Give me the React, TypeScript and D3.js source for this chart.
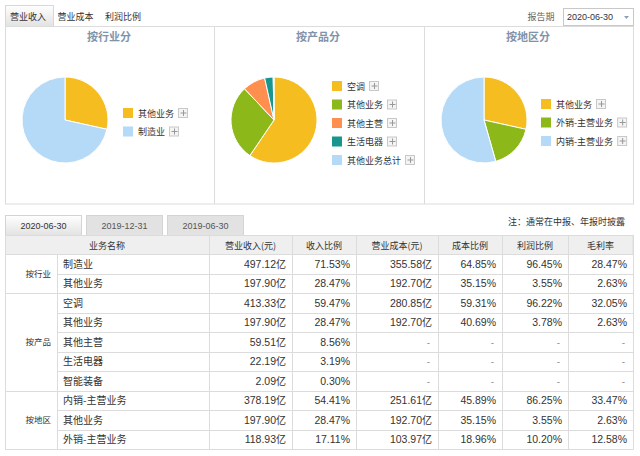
import React from "react";
import * as d3 from "d3";

const topTabs = ["营业收入", "营业成本", "利润比例"];
const periodTabs = ["2020-06-30", "2019-12-31", "2019-06-30"];
const reportDate = "2020-06-30";

const industryNames = ["其他业务", "制造业"];
const industryValues = [28.47, 71.53];
const industryColors = ["#F5BD1F", "#B5DAF7"];

const productNames = ["空调", "其他业务", "其他主营", "生活电器", "其他业务总计"];
const productValues = [59.47, 28.47, 8.56, 3.19, 0.3];
const productColors = ["#F5BD1F", "#8DB81A", "#FF8F4F", "#16968F", "#B5DAF7"];

const regionNames = ["其他业务", "外销-主营业务", "内销-主营业务"];
const regionValues = [28.47, 17.11, 54.41];
const regionColors = ["#F5BD1F", "#8DB81A", "#B5DAF7"];

const headers = ["业务名称", "营业收入(元)", "收入比例", "营业成本(元)", "成本比例", "利润比例", "毛利率"];
const groupNames = ["按行业", "按产品", "按地区"];
const groupSizes = [2, 5, 3];
const rowNames = ["制造业", "其他业务", "空调", "其他业务", "其他主营", "生活电器", "智能装备", "内销-主营业务", "其他业务", "外销-主营业务"];
const revenue = ["497.12亿", "197.90亿", "413.33亿", "197.90亿", "59.51亿", "22.19亿", "2.09亿", "378.19亿", "197.90亿", "118.93亿"];
const revenueRatio = ["71.53%", "28.47%", "59.47%", "28.47%", "8.56%", "3.19%", "0.30%", "54.41%", "28.47%", "17.11%"];
const cost = ["355.58亿", "192.70亿", "280.85亿", "192.70亿", "-", "-", "-", "251.61亿", "192.70亿", "103.97亿"];
const costRatio = ["64.85%", "35.15%", "59.31%", "40.69%", "-", "-", "-", "45.89%", "35.15%", "18.96%"];
const profitRatio = ["96.45%", "3.55%", "96.22%", "3.78%", "-", "-", "-", "86.25%", "3.55%", "10.20%"];
const grossMargin = ["28.47%", "2.63%", "32.05%", "2.63%", "-", "-", "-", "33.47%", "2.63%", "12.58%"];

const CJK = "'Noto Sans CJK SC', sans-serif";
const NUM = "'Liberation Sans', 'Noto Sans CJK SC', sans-serif";
const TXT = "#333";
const LINE = "#dcdcdc";

function measureCJK(s: string, size: number) {
  let w = 0;
  for (const ch of s) w += /[\u4e00-\u9fff]/.test(ch) ? size : size * 0.35;
  return w;
}

function PiePanel({ x, title, names, values, colors, legendX, legendY }: any) {
  const pie = d3.pie<number>().sort(null).value((d) => d)(values);
  const arc = d3.arc<d3.PieArcDatum<number>>().innerRadius(0).outerRadius(43);
  const cx = x + 60;
  const cy = 120;
  return (
    <g>
      <text x={x + 104} y={41} textAnchor="middle" fontSize={11} fontWeight="bold" fill="#8193aa" fontFamily={CJK}>{title}</text>
      <g transform={`translate(${cx},${cy})`}>
        {pie.map((p, i) => (
          <path key={i} d={arc(p) || ""} fill={colors[i]} stroke="#fff" strokeWidth={1} />
        ))}
      </g>
      {names.map((n: string, i: number) => {
        const y = legendY + i * 18.5;
        const tw = measureCJK(n, 9);
        const bx = legendX + 15 + tw + 4;
        return (
          <g key={i}>
            <rect x={legendX} y={y - 5} width={10} height={10} fill={colors[i]} />
            <text x={legendX + 15} y={y + 3.5} fontSize={9} fill={TXT} fontFamily={CJK}>{n}</text>
            <rect x={bx + 0.5} y={y - 4.5} width={9} height={9} fill="#f4f4f4" stroke="#c8c8c8" />
            <path d={`M${bx + 2.5},${y} H${bx + 8.5} M${bx + 5.5},${y - 3} V${y + 3}`} stroke="#999" strokeWidth={1} />
          </g>
        );
      })}
    </g>
  );
}

function NumText({ x, y, v }: any) {
  if (v === "-") {
    return <text x={x - 2} y={y} textAnchor="end" fontSize={10} fill="#999" fontFamily={NUM}>-</text>;
  }
  const hasYi = v.endsWith("亿");
  const num = hasYi ? v.slice(0, -1) : v;
  return (
    <text x={x} y={y} textAnchor="end" fontSize={10.5} fill={TXT} fontFamily={NUM}>
      {num}
      {hasYi && <tspan fontSize={10} fontFamily={CJK}>亿</tspan>}
    </text>
  );
}

export default function App() {
  const colEdges = [5, 57, 209, 292, 356, 438, 502, 568, 633];
  const headerTop = 235;
  const headerBottom = 254;
  const rowH = 19.5;
  const nRows = rowNames.length;
  const yScale = d3.scaleLinear().domain([0, nRows]).range([headerBottom, headerBottom + nRows * rowH]);
  const numCols = [revenue, revenueRatio, cost, costRatio, profitRatio, grossMargin];

  const groupStarts: number[] = [];
  let acc = 0;
  groupSizes.forEach((g) => {
    groupStarts.push(acc);
    acc += g;
  });
  const bottom = Math.round(yScale(nRows)) + 0.5;

  return (
    <svg width={640} height={456} style={{ position: "absolute", left: 0, top: 0, background: "#fff" }} fontFamily={CJK}>
      <defs>
        <linearGradient id="tabg" x1="0" y1="0" x2="0" y2="1">
          <stop offset="0" stopColor="#ffffff" />
          <stop offset="1" stopColor="#e2e2e2" />
        </linearGradient>
      </defs>
      {/* top tabs */}
      <rect x={5.5} y={5.5} width={48} height={21} fill="url(#tabg)" stroke="#d8d8d8" />
      {topTabs.map((t, i) => (
        <text key={i} x={[28, 75.5, 123][i]} y={19.5} textAnchor="middle" fontSize={9} fill={TXT}>{t}</text>
      ))}
      <text x={541} y={19.5} textAnchor="middle" fontSize={9} fill="#666">报告期</text>
      <rect x={563.5} y={8.5} width={70} height={17} fill="#fff" stroke="#c8c8c8" />
      <text x={567} y={20} fontSize={9} fill={TXT} fontFamily={NUM}>{reportDate}</text>
      <path d="M624,16 L629,16 L626.5,19 Z" fill="#8aa0b8" />

      {/* top panel frame */}
      <rect x={5.5} y={26.5} width={628} height={177.5} fill="none" stroke={LINE} />
      <line x1={214.5} x2={214.5} y1={27} y2={204} stroke={LINE} />
      <line x1={424.5} x2={424.5} y1={27} y2={204} stroke={LINE} />

      <PiePanel x={5} title="按行业分" names={industryNames} values={industryValues} colors={industryColors} legendX={123} legendY={113} />
      <PiePanel x={214} title="按产品分" names={productNames} values={productValues} colors={productColors} legendX={332} legendY={86} />
      <PiePanel x={424} title="按地区分" names={regionNames} values={regionValues} colors={regionColors} legendX={541} legendY={104} />

      {/* period tabs */}
      {periodTabs.map((t, i) => {
        const x0 = 5 + i * 81;
        return (
          <g key={i}>
            <rect x={x0 + 0.5} y={215.5} width={76} height={20} fill={i === 0 ? "url(#tabg)" : "#e2e2e2"} stroke="#d4d4d4" />
            <text x={x0 + 38.5} y={229} textAnchor="middle" fontSize={9} fill={i === 0 ? TXT : "#555"} fontFamily={NUM}>{t}</text>
          </g>
        );
      })}
      <text x={625} y={225} textAnchor="end" fontSize={9} fill={TXT}>注：通常在中报、年报时披露</text>

      {/* header */}
      <rect x={5.5} y={headerTop + 0.5} width={627.5} height={headerBottom - headerTop} fill="#efefef" stroke={LINE} />
      <text x={(colEdges[0] + colEdges[2]) / 2} y={248.5} textAnchor="middle" fontSize={9} fill={TXT}>{headers[0]}</text>
      {headers.slice(1).map((h, i) => (
        <text key={i} x={(colEdges[i + 2] + colEdges[i + 3]) / 2} y={248.5} textAnchor="middle" fontSize={9} fill={TXT}>{h}</text>
      ))}

      {/* rows */}
      {rowNames.map((n, r) => {
        const y0 = yScale(r);
        const y1 = yScale(r + 1);
        const isGroupStart = groupStarts.includes(r);
        const ty = (y0 + y1) / 2 + 4;
        return (
          <g key={r}>
            <line x1={isGroupStart ? 5 : 57} x2={633} y1={Math.round(y0) + 0.5} y2={Math.round(y0) + 0.5} stroke={LINE} />
            <text x={63} y={ty} fontSize={10} fill={TXT}>{n}</text>
            {numCols.map((col, c) => (
              <NumText key={c} x={colEdges[c + 3] - 6} y={ty} v={col[r]} />
            ))}
          </g>
        );
      })}
      <line x1={5} x2={633} y1={bottom} y2={bottom} stroke={LINE} />
      {groupNames.map((g, i) => (
        <text key={i} x={51} y={(yScale(groupStarts[i]) + yScale(groupStarts[i] + groupSizes[i])) / 2 + 3.5} textAnchor="end" fontSize={8.5} fill={TXT}>{g}</text>
      ))}
      {colEdges.map((x, i) => (
        <line key={i} x1={x + 0.5} x2={x + 0.5} y1={i === 1 ? headerBottom : headerTop} y2={bottom} stroke={LINE} />
      ))}
    </svg>
  );
}
